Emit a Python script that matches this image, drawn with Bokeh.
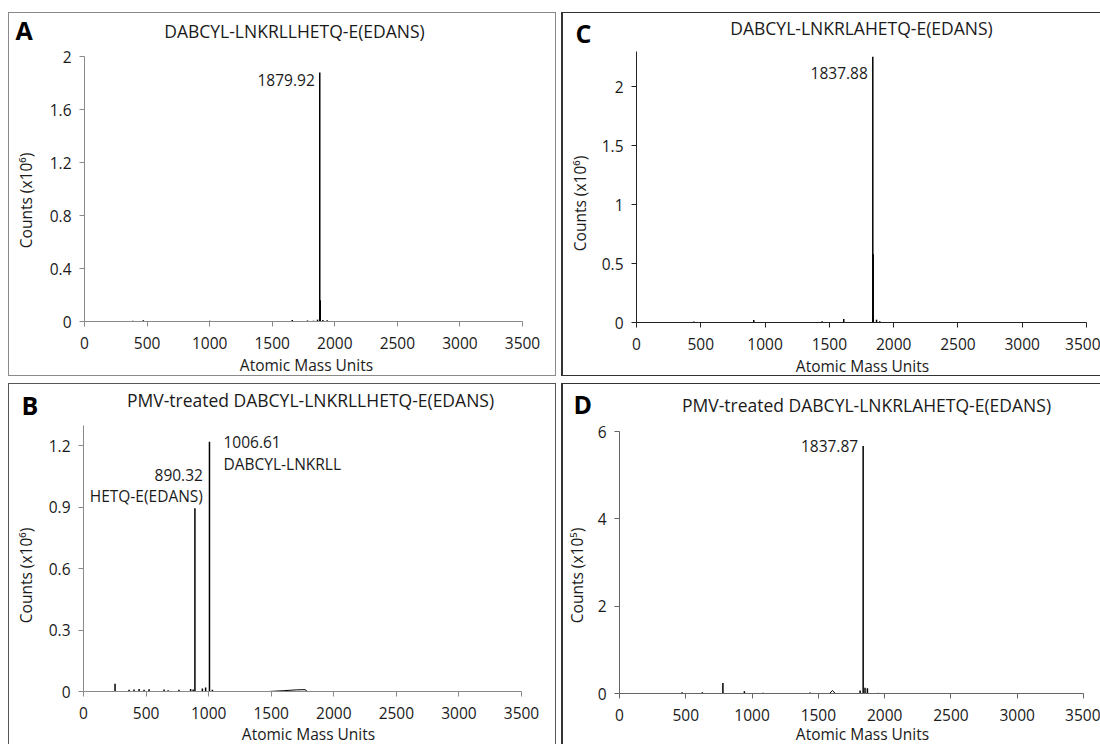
from math import pi
from bokeh.plotting import figure
from bokeh.models import Range1d, FixedTicker, Label, CustomJSTickFormatter
from bokeh.layouts import column, row
from bokeh.embed import file_html
from bokeh.resources import INLINE

# ---------------- data ----------------
x_ticks = [0, 500, 1000, 1500, 2000, 2500, 3000, 3500]
x_tick_labels = ["0", "500", "1000", "1500", "2000", "2500", "3000", "3500"]
x_title = "Atomic Mass Units"

# Panel A
a_letter = "A"
a_title = "DABCYL-LNKRLLHETQ-E(EDANS)"
a_ylabel = "Counts (x10\u2076)"
a_yticks = [0, 0.4, 0.8, 1.2, 1.6, 2]
a_ytick_labels = ["0", "0.4", "0.8", "1.2", "1.6", "2"]
a_baseline = [300, 3490]
a_mass = [385, 470, 560, 640, 905, 1000, 1160, 1300, 1540, 1660, 1782, 1830, 1862, 1879.92, 1884, 1905, 1939]
a_counts = [0.005, 0.009, 0.004, 0.004, 0.004, 0.006, 0.003, 0.003, 0.004, 0.012, 0.008, 0.006, 0.014, 1.88, 0.16, 0.012, 0.01]
a_annot_mass = [1879.92]
a_annot_counts = [1.88]
a_annot_text = ["1879.92"]

# Panel B
b_letter = "B"
b_title = "PMV-treated DABCYL-LNKRLLHETQ-E(EDANS)"
b_ylabel = "Counts (x10\u2076)"
b_yticks = [0, 0.3, 0.6, 0.9, 1.2]
b_ytick_labels = ["0", "0.3", "0.6", "0.9", "1.2"]
b_baseline = [100, 3490]
b_mass = [252, 364, 404, 444, 484, 524, 644, 676, 763, 856, 876, 890.32, 950, 976, 1006.61, 1030]
b_counts = [0.038, 0.008, 0.01, 0.012, 0.009, 0.011, 0.01, 0.006, 0.008, 0.012, 0.01, 0.895, 0.015, 0.02, 1.22, 0.008]
b_hump_mass = [1480, 1600, 1700, 1770, 1790]
b_hump_counts = [0, 0.004, 0.008, 0.009, 0]
b_annot_mass = [890.32, 890.32, 1006.61, 1006.61]
b_annot_counts = [0.895, 0.895, 1.22, 1.22]
b_annot_text = ["890.32", "HETQ-E(EDANS)", "1006.61", "DABCYL-LNKRLL"]

# Panel C
c_letter = "C"
c_title = "DABCYL-LNKRLAHETQ-E(EDANS)"
c_ylabel = "Counts (x10\u2076)"
c_yticks = [0, 0.5, 1, 1.5, 2]
c_ytick_labels = ["0", "0.5", "1", "1.5", "2"]
c_baseline = [300, 3490]
c_mass = [446, 600, 912, 1150, 1444, 1612, 1837.88, 1841, 1867, 1892]
c_counts = [0.008, 0.004, 0.022, 0.004, 0.01, 0.03, 2.255, 0.58, 0.024, 0.01]
c_annot_mass = [1837.88]
c_annot_counts = [2.255]
c_annot_text = ["1837.88"]

# Panel D
d_letter = "D"
d_title = "PMV-treated DABCYL-LNKRLAHETQ-E(EDANS)"
d_ylabel = "Counts (x10\u2075)"
d_yticks = [0, 2, 4, 6]
d_ytick_labels = ["0", "2", "4", "6"]
d_baseline = [100, 3495]
d_mass = [472, 625, 780, 942, 1083, 1307, 1437, 1815, 1837.87, 1852, 1870, 1953]
d_counts = [0.03, 0.03, 0.24, 0.05, 0.015, 0.012, 0.025, 0.07, 5.67, 0.13, 0.12, 0.015]
d_hump_mass = [1585, 1606, 1628]
d_hump_counts = [0, 0.07, 0]
d_annot_mass = [1837.87]
d_annot_counts = [5.67]
d_annot_text = ["1837.87"]

# ---------------- styling ----------------
FONT = "Open Sans"
TXT = "#1a1a1a"
FS = "15.5px"
XMAX = 3500


def fmt(ticks, labels):
    return CustomJSTickFormatter(args=dict(tv=ticks, tl=labels),
                                 code="const i = tv.indexOf(tick); return i >= 0 ? tl[i] : '';")


def panel(spec):
    L = spec["layout"]
    w, h, bl, bt, fw, fh = L["w"], L["h"], L["bl"], L["bt"], L["fw"], L["fh"]
    ymax = spec["ymax"]
    sx = fw / XMAX          # px per amu
    sy = fh / ymax          # px per count unit
    p = figure(width=w, height=h, output_backend="svg", toolbar_location=None, tools="",
               x_range=Range1d(-bl / sx, (w - bl) / sx),
               y_range=Range1d(-(h - bt - fh) / sy, ymax + bt / sy),
               min_border_left=0, min_border_top=0, min_border_right=0, min_border_bottom=0)
    p.title.visible = False
    p.background_fill_color = None
    p.border_fill_color = None
    p.outline_line_color = None
    p.xgrid.visible = False
    p.ygrid.visible = False
    p.styles = {"box-shadow": L["shadow"]}

    for ax, ticks, labels, bounds in ((p.xaxis[0], x_ticks, x_tick_labels, (0, XMAX)),
                                      (p.yaxis[0], spec["yticks"], spec["ytick_labels"], (0, ymax))):
        ax.fixed_location = 0
        ax.bounds = bounds
        ax.ticker = FixedTicker(ticks=ticks, minor_ticks=[])
        ax.formatter = fmt(ticks, labels)
        ax.axis_line_color = spec["axis_color"]
        ax.major_tick_line_color = spec["axis_color"]
        ax.minor_tick_line_color = None
        ax.major_tick_in = 0
        ax.major_tick_out = 5
        ax.major_label_text_font = FONT
        ax.major_label_text_font_size = FS
        ax.major_label_text_color = TXT
    p.xaxis.major_label_standoff = 10
    p.yaxis.major_label_standoff = 8

    # spectrum: baseline, sticks and broad humps
    p.line(spec["baseline"], [0, 0], line_color="black", line_width=1)
    p.segment(x0=spec["mass"], y0=[0] * len(spec["mass"]), x1=spec["mass"], y1=spec["counts"],
              line_color="black", line_width=1.5)
    if "hump_mass" in spec:
        p.line(spec["hump_mass"], spec["hump_counts"], line_color="black", line_width=1)

    # peak annotations
    for m, c, t, (dx, dy, al) in zip(spec["annot_mass"], spec["annot_counts"], spec["annot_text"], spec["annot_off"]):
        p.add_layout(Label(x=m, y=c, text=t, x_offset=dx, y_offset=dy, text_align=al,
                           text_baseline="middle", text_font=FONT, text_font_size=FS, text_color=TXT))

    # page-positioned texts (frame == whole canvas)
    def put(px, py, text, color=TXT, **kw):
        p.add_layout(Label(x=px - L["px"], y=L["py"] + h - py, x_units="screen", y_units="screen",
                           text=text, text_font=FONT, text_color=color, **kw))

    lx, ly = L["letter"]
    put(lx, ly, spec["letter"], color="black", text_align="left", text_baseline="middle",
        text_font_size="25px", text_font_style="bold")
    tx, ty = L["title"]
    put(tx, ty, spec["title"], text_align="center", text_baseline="middle", text_font_size="17.5px")
    xx, xy = L["xlab"]
    put(xx, xy, x_title, text_align="center", text_baseline="middle", text_font_size=FS)
    yx, yy = L["ylab"]
    put(yx, yy, spec["ylabel"], text_align="center", text_baseline="middle", text_font_size=FS, angle=pi / 2)
    return p


def sh(color, sides):
    parts = []
    m = {"l": (1, 0), "t": (0, 1), "r": (-1, 0), "b": (0, -1)}
    for s, wdt in sides:
        ox, oy = m[s]
        parts.append(f"inset {ox * wdt}px {oy * wdt}px 0 0 {color}")
    return ", ".join(parts)


specA = dict(letter=a_letter, title=a_title, ylabel=a_ylabel, yticks=a_yticks, ytick_labels=a_ytick_labels,
             ymax=2.0, baseline=a_baseline, mass=a_mass, counts=a_counts,
             annot_mass=a_annot_mass, annot_counts=a_annot_counts, annot_text=a_annot_text,
             annot_off=[(-5, -8, "right")], axis_color="#8a8a8a",
             layout=dict(px=8, py=12, w=548, h=364, bl=76, bt=44, fw=438, fh=265,
                         shadow=sh("#8a8a8a", [("l", 1), ("t", 1), ("r", 1), ("b", 1)]),
                         letter=(15, 29.5), title=(294, 30), xlab=(306, 364), ylab=(25, 200)))
specB = dict(letter=b_letter, title=b_title, ylabel=b_ylabel, yticks=b_yticks, ytick_labels=b_ytick_labels,
             ymax=1.3, baseline=b_baseline, mass=b_mass, counts=b_counts,
             hump_mass=b_hump_mass, hump_counts=b_hump_counts,
             annot_mass=b_annot_mass, annot_counts=b_annot_counts, annot_text=b_annot_text,
             annot_off=[(8, 33, "right"), (8, 12, "right"), (14, 0, "left"), (14, -22, "left")],
             axis_color="#8a8a8a",
             layout=dict(px=8, py=383, w=548, h=361, bl=75, bt=42, fw=438, fh=266,
                         shadow=sh("#555555", [("l", 1), ("t", 1), ("r", 1)]),
                         letter=(21, 404), title=(310, 399), xlab=(308, 733), ylab=(25, 575)))
specC = dict(letter=c_letter, title=c_title, ylabel=c_ylabel, yticks=c_yticks, ytick_labels=c_ytick_labels,
             ymax=2.3, baseline=c_baseline, mass=c_mass, counts=c_counts,
             annot_mass=c_annot_mass, annot_counts=c_annot_counts, annot_text=c_annot_text,
             annot_off=[(-5, -16, "right")], axis_color="#222222",
             layout=dict(px=561, py=12, w=539, h=364, bl=75, bt=39, fw=450, fh=271,
                         shadow=sh("#333333", [("l", 2), ("t", 1), ("b", 1)]),
                         letter=(575, 32), title=(861, 27), xlab=(862, 365), ylab=(579, 203)))
specD = dict(letter=d_letter, title=d_title, ylabel=d_ylabel, yticks=d_yticks, ytick_labels=d_ytick_labels,
             ymax=6.0, baseline=d_baseline, mass=d_mass, counts=d_counts,
             hump_mass=d_hump_mass, hump_counts=d_hump_counts,
             annot_mass=d_annot_mass, annot_counts=d_annot_counts, annot_text=d_annot_text,
             annot_off=[(-5, 0, "right")], axis_color="#666666",
             layout=dict(px=561, py=383, w=539, h=361, bl=58, bt=48, fw=464, fh=262,
                         shadow=sh("#333333", [("l", 2), ("t", 1)]),
                         letter=(573, 403), title=(866, 404), xlab=(862, 733), ylab=(576, 575)))

pA, pB, pC, pD = panel(specA), panel(specB), panel(specC), panel(specD)
layout = column(row(pA, pC, spacing=5), row(pB, pD, spacing=5), spacing=7, margin=(12, 0, 0, 8))

open("out.html", "w").write(file_html(layout, INLINE))
